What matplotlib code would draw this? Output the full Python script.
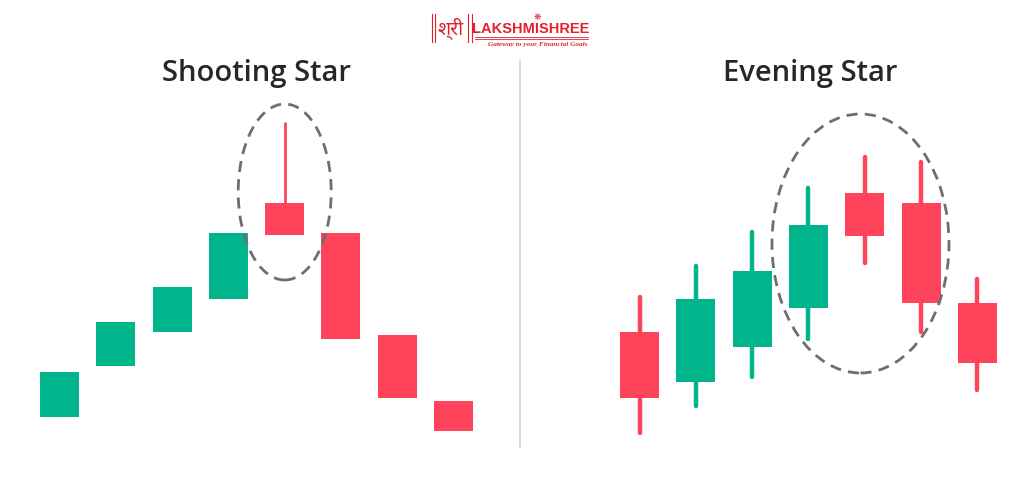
import numpy as np
import matplotlib
matplotlib.use("Agg")
import matplotlib.pyplot as plt
from matplotlib.patches import Ellipse, Rectangle

GREEN, RED, GREY = "#00b48c", "#ff435a", "#6e6e70"
LOGO_RED = "#e1232d"

# --- Shooting Star: open/close/high/low (arbitrary price units) ---
ss_open = [33, 84, 118, 151, 247, 217, 115, 49]
ss_close = [78, 128, 163, 217, 215, 111, 52, 19]
ss_high = [78, 128, 163, 217, 327, 217, 115, 49]
ss_low = [33, 84, 118, 151, 215, 111, 52, 19]

# --- Evening Star ---
es_open = [118, 68, 103, 142, 257, 247, 147]
es_close = [52, 151, 179, 225, 214, 147, 87]
es_high = [153, 184, 218, 262, 293, 288, 171]
es_low = [17, 44, 73, 111, 187, 118, 60]

W, H = 1024, 496
fig = plt.figure(figsize=(W / 100, H / 100), dpi=100)
fig.patch.set_facecolor("white")

SP = 56.3      # px per candle slot
BODY = 39 / SP  # body width in slot units


def panel(rect, x0px, xw, o, c, hi, lo, wick_lw):
    ax = fig.add_axes(rect)
    px_left = rect[0] * W
    ax.set_xlim((px_left - x0px) / SP, (px_left + xw - x0px) / SP)
    ax.set_ylim(-46, 450)
    ax.axis("off")
    for i, (op, cl, h, l) in enumerate(zip(o, c, hi, lo)):
        col = GREEN if cl > op else RED
        top, bot = max(op, cl), min(op, cl)
        # wicks drawn in two pieces so the caps stay hidden under the body
        if h > top:
            ax.vlines(i, top, h, color=col, lw=wick_lw, capstyle="round", zorder=1)
        if l < bot:
            ax.vlines(i, l, bot, color=col, lw=wick_lw, capstyle="round", zorder=1)
        ax.add_patch(Rectangle((i - BODY / 2, bot), BODY, top - bot,
                               fc=col, ec="none", zorder=2))
    return ax


axL = panel([0.0, 0.0, 0.5, 1.0], 59.5, 512, ss_open, ss_close, ss_high, ss_low, 2.0)
axR = panel([0.5, 0.0, 0.5, 1.0], 639.5, 512, es_open, es_close, es_high, es_low, 3.2)

# dashed highlight ellipses
axL.add_patch(Ellipse((4.0, 258), 93 / SP, 176, fill=False, ec=GREY, lw=2.0,
                      ls=(0, (4, 2.6)), zorder=3))
axR.add_patch(Ellipse((3.925, 206.5), 177 / SP, 259, fill=False, ec=GREY, lw=2.0,
                      ls=(0, (4, 2.6)), zorder=3))

# titles
fig.text(257 / W, 1 - 73 / H, "Shooting Star", ha="center", va="center",
         fontsize=21, fontweight="semibold", family="Open Sans", color="#26262b")
fig.text(810 / W, 1 - 73 / H, "Evening Star", ha="center", va="center",
         fontsize=21, fontweight="semibold", family="Open Sans", color="#26262b")

# divider
fig.add_artist(plt.Line2D([520 / W, 520 / W], [1 - 60 / H, 1 - 448 / H],
                          color="#d4d4d8", lw=1.2))

# logo
for xp in (432, 434.5, 468, 471.5):
    fig.add_artist(plt.Line2D([xp / W, xp / W], [1 - 14 / H, 1 - 42 / H],
                              color=LOGO_RED, lw=0.8))
fig.text(451 / W, 1 - 28 / H, "श्री", ha="center", va="center", fontsize=14,
         color=LOGO_RED, fontweight="bold", family=["Noto Sans", "DejaVu Sans"])
fig.text(531 / W, 1 - 29 / H, "LAKSHMISHREE", ha="center", va="center", fontsize=10.5,
         color=LOGO_RED, fontweight="bold", family="Liberation Sans")
fig.text(537 / W, 1 - 17.5 / H, "❋", ha="center", va="center", fontsize=6.5,
         color=LOGO_RED, family="DejaVu Sans")
for yp in (37, 39):
    fig.add_artist(plt.Line2D([475 / W, 588 / W], [1 - yp / H, 1 - yp / H],
                              color=LOGO_RED, lw=0.6))
fig.text(538 / W, 1 - 44.5 / H, "Gateway to your Financial Goals", ha="center", va="center",
         fontsize=5.2, color=LOGO_RED, style="italic", fontweight="bold",
         family="Liberation Serif")

fig.savefig("out.png", dpi=100, facecolor="white")
